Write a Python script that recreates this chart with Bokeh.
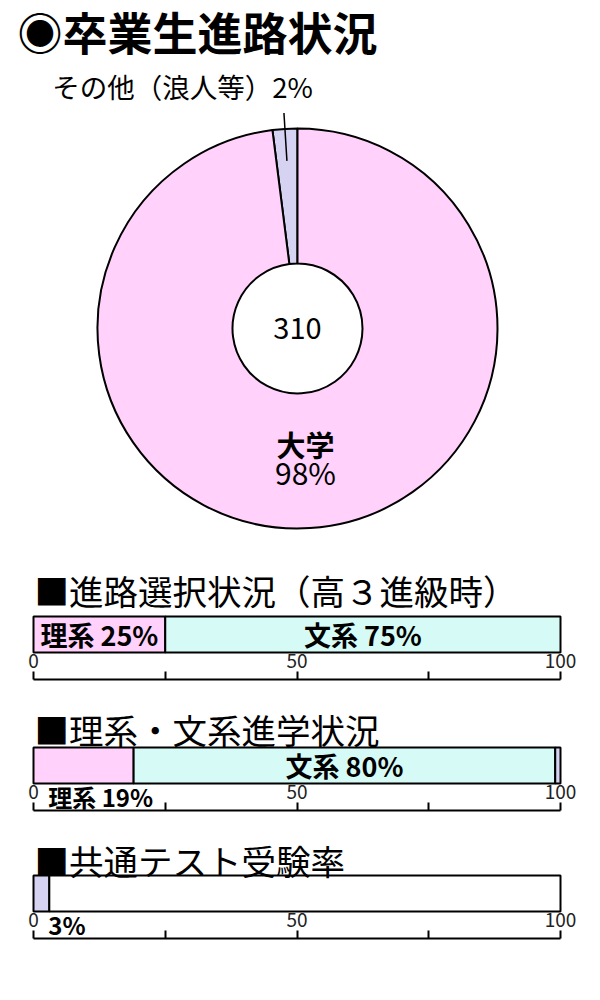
import numpy as np
from bokeh.plotting import figure
from bokeh.models import Range1d, LinearAxis, FixedTicker
from bokeh.layouts import column
from bokeh.core.properties import value
from bokeh.embed import file_html
from bokeh.resources import INLINE

FONT_NAME = "Noto Sans CJK JP"
FONT = value(FONT_NAME)

# --- data ---
main_title = "◉卒業生進路状況"
total_students = "310"
pie_labels = ["その他（浪人等）", "大学"]
pie_values = [2, 98]

sel_title = "■進路選択状況（高３進級時）"
sel_labels = ["理系", "文系"]
sel_values = [25, 75]

adv_title = "■理系・文系進学状況"
adv_labels = ["理系", "文系", "その他"]
adv_values = [19, 80, 1]

test_title = "■共通テスト受験率"
test_labels = ["受験", "未受験"]
test_values = [3, 97]

axis_ticks = [0, 25, 50, 75, 100]
axis_labels = {0: "0", 25: "", 50: "50", 75: "", 100: "100"}

colors = {"理系": "#ffd1fb", "文系": "#d6fbf6", "その他": "#d6d2f2",
          "受験": "#d6d2f2", "未受験": "#ffffff", "大学": "#ffd1fb",
          "その他（浪人等）": "#d6d2f2"}

W = 600
PX = 5.27  # pixels per percent on the bar scales
X0 = 33    # pixel position of 0 %

# --- pie (donut) ---
pie = figure(width=W, height=560, x_range=Range1d(-297, 303), y_range=Range1d(-232, 328),
             output_backend="svg", toolbar_location=None,
             x_axis_location=None, y_axis_location=None, min_border=0)
pie.grid.visible = False
pie.outline_line_color = None

ang = np.pi / 2 + np.cumsum([0] + pie_values) / sum(pie_values) * 2 * np.pi
pie.annular_wedge(x=0, y=0, inner_radius=65, outer_radius=200,
                  start_angle=ang[:-1], end_angle=ang[1:],
                  fill_color=[colors[l] for l in pie_labels],
                  line_color="black", line_width=2)

pie.text(x=[-280], y=[297], text=[main_title], text_font=FONT, text_font_size="45px",
         text_font_style="bold", text_baseline="middle", text_align="left", text_color="black")

mid = (ang[0] + ang[1]) / 2
pie.segment(x0=[168 * np.cos(mid)], y0=[168 * np.sin(mid)],
            x1=[216 * np.cos(mid)], y1=[216 * np.sin(mid)], line_color="black", line_width=1.5)
pie.text(x=[-115], y=[243], text=[f"{pie_labels[0]}{pie_values[0]}%"], text_font=FONT,
         text_font_size="27.5px", text_baseline="middle", text_align="center", text_color="black")

pie.text(x=[0], y=[0], text=[total_students], text_font=FONT, text_font_size="29px",
         text_baseline="middle", text_align="center", text_color="black")
pie.text(x=[8], y=[-115], text=[pie_labels[1]], text_font=FONT, text_font_size="29px",
         text_font_style="bold", text_baseline="middle", text_align="center", text_color="black")
pie.text(x=[8], y=[-143], text=[f"{pie_values[1]}%"], text_font=FONT, text_font_size="30px",
         text_baseline="middle", text_align="center", text_color="black")


def bar_chart(title, labels, values, frame_h, inside, below):
    p = figure(width=W, height=frame_h + 20,
               x_range=Range1d(-X0 / PX, (W - X0) / PX), y_range=Range1d(0, frame_h),
               output_backend="svg", toolbar_location=None,
               x_axis_location=None, y_axis_location=None,
               min_border_left=0, min_border_right=0, min_border_top=0, min_border_bottom=20)
    p.grid.visible = False
    p.outline_line_color = None

    edges = np.cumsum([0] + values)
    p.hbar(y=45, height=36, left=edges[:-1], right=edges[1:],
           fill_color=[colors[l] for l in labels], line_color="black", line_width=2)

    for i in inside:
        p.text(x=[(edges[i] + edges[i + 1]) / 2], y=[45], text=[f"{labels[i]} {values[i]}%"],
               text_font=FONT, text_font_size="27px", text_font_style="bold",
               text_baseline="middle", text_align="center", text_color="black")
    for i, txt in below:
        p.text(x=[2.8], y=[14], text=[txt], text_font=FONT, text_font_size="24px",
               text_font_style="bold", text_baseline="middle", text_align="left", text_color="black")

    p.text(x=[0.2], y=[frame_h - 29], text=[title], text_font=FONT, text_font_size="34.5px",
           text_baseline="middle", text_align="left", text_color="black")

    ax = LinearAxis(ticker=FixedTicker(ticks=axis_ticks), major_label_overrides=axis_labels,
                    bounds=(0, 100),
                    major_tick_in=8, major_tick_out=0, minor_tick_in=0, minor_tick_out=0,
                    major_label_standoff=-26, axis_line_width=2, major_tick_line_width=2,
                    major_label_text_font=FONT_NAME, major_label_text_font_size="19px",
                    major_label_text_color="#222222")
    p.add_layout(ax, "below")
    return p


b1 = bar_chart(sel_title, sel_labels, sel_values, 119, [0, 1], [])
b2 = bar_chart(adv_title, adv_labels, adv_values, 111, [1], [(0, f"{adv_labels[0]} {adv_values[0]}%")])
b3 = bar_chart(test_title, test_labels, test_values, 108, [], [(0, f"{test_values[0]}%")])

layout = column(pie, b1, b2, b3, spacing=0)
open("out.html", "w").write(file_html(layout, INLINE))
